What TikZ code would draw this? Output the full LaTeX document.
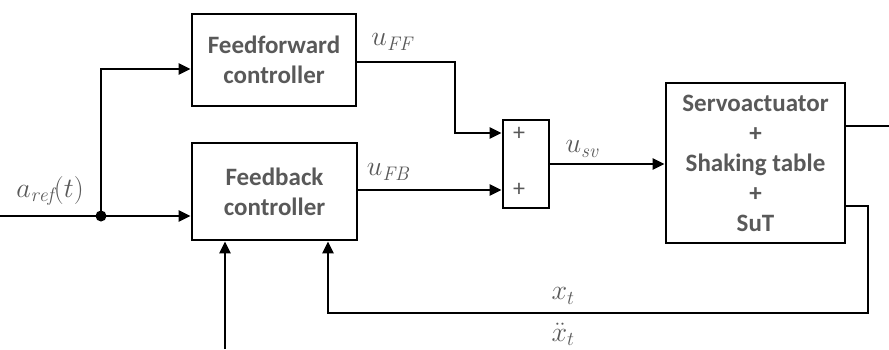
\RequirePackage{fix-cm}
\documentclass[tikz,border=0pt]{standalone}
\usepackage{fontspec}
\setsansfont{Carlito}
\usetikzlibrary{arrows.meta}
\definecolor{txt}{HTML}{595959}
\begin{document}
\begin{tikzpicture}[x=1pt,y=-1pt,
  box/.style={draw=black,line width=2.8pt,fill=white,align=center,inner sep=0pt,
    font=\sffamily\bfseries\fontsize{25}{30}\selectfont,text=txt},
  wire/.style={line width=2.8pt},
  arr/.style={wire,-{Triangle[length=12pt,width=11pt]}},
  lbl/.style={text=txt,font=\fontsize{28}{32}\selectfont,inner sep=0pt}]
\useasboundingbox (0,0) rectangle (889,349);
\node[box,minimum width=164,minimum height=92] (ff) at (274,60) {Feedforward\\controller};
\node[box,minimum width=165,minimum height=97] (fb) at (274.5,191.5) {Feedback\\controller};
\node[box,minimum width=46,minimum height=88] (sum) at (526,164) {};
\node[box,minimum width=179,minimum height=160] (big) at (755.5,163) {Servoactuator\\+\\Shaking table\\+\\SuT};
\node[lbl,font=\sffamily\fontsize{24}{28}\selectfont] (p1) at (519,134) {+};
\node[lbl,font=\sffamily\fontsize{24}{28}\selectfont] (p2) at (519,190) {+};
\coordinate (in) at (0,216);
\coordinate (j) at (101,216);
\coordinate (out) at (889,126);
\coordinate (bot) at (225,349);
\coordinate (fbr) at (868,313);
\draw[arr] (in) -- (in -| fb.west);
\fill (j) circle (5.5);
\draw[arr] (j) |- ([yshift=-9pt]ff.west);
\draw[arr] ([yshift=-2pt]ff.east) -| (455,110) |- ([yshift=31pt]sum.west);
\draw[arr] (fb.east |- 0,190) -- (sum.west |- 0,190);
\draw[arr] (sum.east) -- (big.west |- sum.east);
\draw[wire] ([yshift=37pt]big.east) -- (out);
\draw[arr] ([yshift=-43pt]big.east) -| (fbr) -| ([xshift=53.5pt]fb.south);
\draw[arr] (bot) -- (bot |- fb.south);
\node[lbl] (la) at (50,191) {$a_{\mathit{ref}}(t)$};
\node[lbl] (luff) at (392,42) {$u_{\mathit{FF}}$};
\node[lbl] (lufb) at (388,172) {$u_{\mathit{FB}}$};
\node[lbl] (lusv) at (582,149) {$u_{\mathit{sv}}$};
\node[lbl] (lx) at (563,296) {$x_t$};
\node[lbl] (lxdd) at (563,334) {$\ddot{x}_t$};
\end{tikzpicture}
\end{document}
